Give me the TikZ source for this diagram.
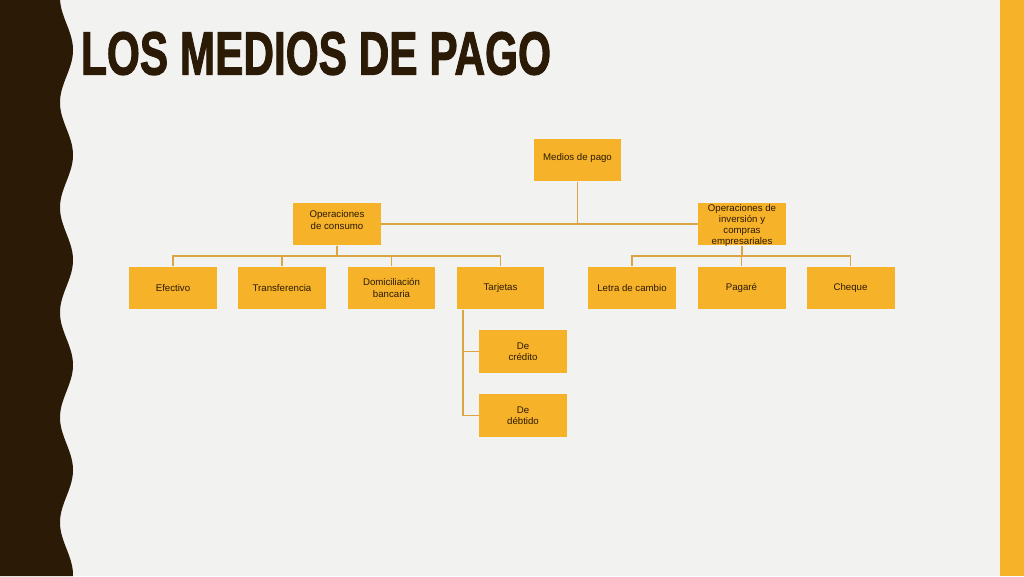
\documentclass[tikz,border=0pt]{standalone}
\usepackage{fontspec}
\setmainfont{Liberation Sans}
\newfontfamily\ttlfont[FakeBold=2]{Liberation Sans Bold}
\usetikzlibrary{positioning}
\definecolor{bgcol}{RGB}{242,242,240}
\definecolor{brn}{RGB}{43,26,5}
\definecolor{org}{RGB}{246,178,40}
\definecolor{lne}{RGB}{218,165,66}
\newcommand{\ml}[1]{\begin{tabular}{@{}c@{}}#1\end{tabular}}
\begin{document}
\begin{tikzpicture}[x=0.02cm, y=-0.02cm,
  box/.style={rectangle, fill=org, minimum width=1.76cm, minimum height=0.85cm, inner sep=1pt, align=center, text=brn, font=\fontsize{5.5}{6.4}\selectfont},
  link/.style={draw=lne, line width=0.8pt}]
\useasboundingbox (0,0) rectangle (1024,576);
\fill[bgcol] (0,0) rectangle (1024,576);
\fill[brn] (0,0) -- plot[domain=0:576, samples=240] ({66.5+6.5*cos(3.428571*(\x-50))}, \x) -- (0,576) -- cycle;
\fill[org] (1000,0) rectangle (1024,576);
\node[text=brn, inner sep=0pt] (ttl) at (316,53.5){\resizebox{9.4cm}{0.85cm}{\ttlfont LOS MEDIOS DE PAGO}};
% root and second level
\node[box] (mp0) at (577.5,160){\raisebox{0.12cm}{Medios de pago}};
\node[box] (mp1) at (337,224){\raisebox{0.01cm}[0pt][0pt]{\ml{Operaciones\\de consumo}}};
\node[box] (mp2) at (742,224){\raisebox{-0.08cm}[0pt][0pt]{\ml{Operaciones de\\inversión y\\compras\\empresariales}}};
\draw[link](mp0.south) |- (mp1.east);
\draw[link](mp0.south) |- (mp2.west);
% consumo
\node[box] (mp3) at (173,288){Efectivo};
\node[box] (mp4) at (282,288){Transferencia};
\node[box] (mp5) at (391.5,288){Domiciliación\\bancaria};
\node[box] (mp6) at (500.5,288){Tarjetas};
\draw[link](mp1.south) -- ++(0,10.5) -| (mp3.north);
\draw[link](mp1.south) -- ++(0,10.5) -| (mp4.north);
\draw[link](mp1.south) -- ++(0,10.5) -| (mp5.north);
\draw[link](mp1.south) -- ++(0,10.5) -| (mp6.north);
% inversion
\node[box] (mp7) at (632,288){Letra de cambio};
\node[box] (mp8) at (741.5,288){Pagaré};
\node[box] (mp9) at (850.5,288){Cheque};
\draw[link](mp2.south) -- ++(0,10.5) -| (mp7.north);
\draw[link](mp2.south) -- ++(0,10.5) -| (mp8.north);
\draw[link](mp2.south) -- ++(0,10.5) -| (mp9.north);
% tarjetas
\node[box] (mp10) at (523,351.5){De\\crédito};
\node[box] (mp11) at (523,415.5){De\\débtido};
\coordinate (tj0) at ([xshift=0.14cm]mp6.south west);
\draw[link](tj0) |- (mp10.west);
\draw[link](tj0) |- (mp11.west);
\end{tikzpicture}
\end{document}
